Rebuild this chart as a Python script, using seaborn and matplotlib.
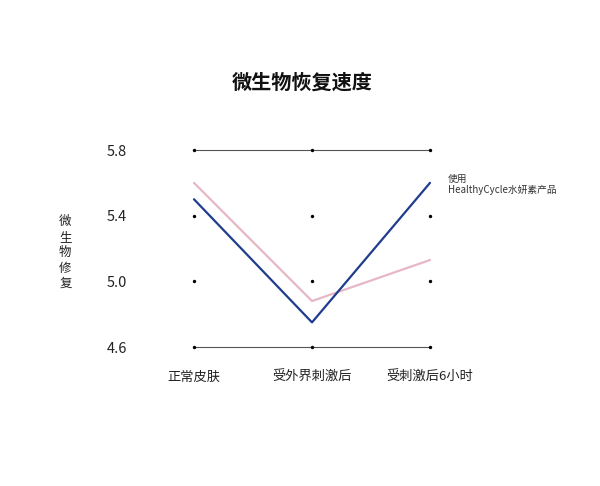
import pandas as pd
import matplotlib
matplotlib.use("Agg")
import matplotlib.pyplot as plt
import seaborn as sns

# data
categories = ["正常皮肤", "受外界刺激后", "受刺激后6小时"]
used_product = [5.50, 4.75, 5.60]
control = [5.60, 4.88, 5.13]
y_ticks = [4.6, 5.0, 5.4, 5.8]
series_names = ["使用\nHealthyCycle水妍素产品", "对照"]

sns.set_style("white")
plt.rcParams['font.family'] = ['Noto Sans CJK SC', 'DejaVu Sans']

df = pd.DataFrame({
    "pos": list(range(len(categories))) * 2,
    "value": used_product + control,
    "group": [series_names[0]] * 3 + [series_names[1]] * 3,
})

fig = plt.figure(figsize=(6, 4.86), dpi=100)
ax = fig.add_axes([0.225, 0.2691, 0.59, 0.4391])

# grey lines at top and bottom ticks
for yv in (y_ticks[0], y_ticks[-1]):
    ax.plot([0, len(categories) - 1], [yv, yv], color="#555555", lw=0.8, zorder=1)

sns.lineplot(data=df[df.group == series_names[1]], x="pos", y="value",
             color="#e8b7c6", lw=1.6, ax=ax, legend=False, zorder=2)
sns.lineplot(data=df[df.group == series_names[0]], x="pos", y="value",
             color="#1f3d8c", lw=1.6, ax=ax, legend=False, zorder=3)

# small dots at every tick value for each category
for i in range(len(categories)):
    ax.scatter([i] * len(y_ticks), y_ticks, s=6, color="black", zorder=4, linewidths=0)

ax.set_xlim(-0.5, 2.5)
ax.set_ylim(4.55, 5.85)
ax.set_xticks(range(len(categories)))
ax.set_xticklabels(categories, fontsize=9.5, color="#222222")
ax.set_yticks(y_ticks)
ax.set_yticklabels([f"{v:.1f}" for v in y_ticks], fontsize=10.5, color="#222222")
ax.tick_params(axis="y", length=0, pad=6)
ax.tick_params(axis="x", length=0, pad=11)
ax.set_xlabel("")
ax.set_ylabel("")
for s in ax.spines.values():
    s.set_visible(False)
ax.grid(False)

ax.text(len(categories) - 1 + 0.15, used_product[-1] - 0.01, series_names[0],
        fontsize=7, color="#333333", va="center", ha="left", linespacing=1.2)

fig.text(0.109, 0.48, "\n".join("微生物修复"), fontsize=9, ha="center", va="center",
         linespacing=1.25, color="#222222")
fig.text(0.503, 0.831, "微生物恢复速度", fontsize=14.5, fontweight="bold",
         ha="center", va="center", color="#111111")

fig.savefig("out.png", dpi=100)
